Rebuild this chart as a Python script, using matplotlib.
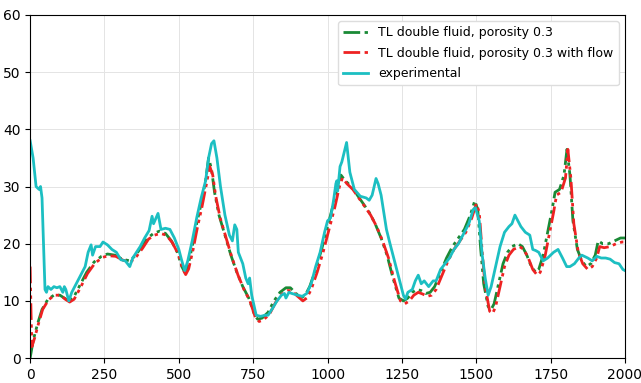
import numpy as np
import matplotlib
matplotlib.use("Agg")
import matplotlib.pyplot as plt

# experimental curve
x_exp = [0, 10, 20, 30, 35, 40, 45, 50, 55, 60, 70, 80, 90, 100, 110, 115, 120, 130,
         140, 150, 170, 185, 195, 205, 210, 220, 235, 245, 260, 275, 290, 305, 320, 335,
         345, 355, 370, 385, 400, 410, 415, 430, 440, 455, 470, 485, 500, 510, 520, 530,
         545, 560, 575, 590, 600, 610, 618, 628, 640, 655, 670, 680, 688, 695, 700, 715,
         725, 733, 738, 745, 760, 775, 790, 800, 815, 830, 845, 855, 860, 870, 880, 900,
         915, 930, 945, 960, 975, 990, 1000, 1010, 1020, 1028, 1031, 1034, 1042, 1048,
         1064, 1075, 1090, 1110, 1130, 1140, 1150, 1163, 1170, 1180, 1198, 1210, 1225,
         1240, 1255, 1262, 1270, 1285, 1295, 1305, 1315, 1325, 1340, 1355, 1365, 1380,
         1395, 1410, 1425, 1440, 1460, 1475, 1490, 1497, 1510, 1520, 1530, 1540, 1550,
         1565, 1580, 1595, 1610, 1620, 1630, 1640, 1650, 1665, 1680, 1690, 1700, 1710,
         1725, 1740, 1760, 1775, 1790, 1804, 1815, 1830, 1845, 1855, 1875, 1890, 1905,
         1920, 1935, 1950, 1965, 1980, 1993, 2000]
y_exp = [38, 35, 30, 29.5, 30, 28, 20, 12, 11.5, 12.5, 12, 12.5, 12.3, 12.5, 11.5, 12.5,
         12, 10, 11.5, 12.5, 14.5, 16, 18.5, 19.8, 18, 19.5, 19.5, 20.3, 19.8, 19, 18.5,
         17.2, 17, 16, 17.5, 18.3, 19.5, 21, 22.3, 24.8, 23.5, 25.3, 22.5, 22.7, 22.5,
         21, 19, 17, 15.3, 17, 20.5, 24.5, 28, 31, 35, 37.5, 38, 35, 30, 25, 21.5, 20.5,
         23.3, 22.5, 18.5, 16.5, 14, 13, 14, 11, 7.5, 7.3, 7.5, 7.5, 8.7, 10, 11, 11.3,
         10.5, 11.5, 11.3, 11, 10.8, 11.3, 13, 16, 18.5, 22, 24, 24.5, 27.5, 30.5, 31,
         29.2, 33.5, 34.3, 37.7, 32.5, 29.5, 28.3, 28, 27.6, 28.5, 31.4, 30.5, 28.5,
         22.5, 20, 17, 14, 11, 10.3, 11.5, 12, 13.5, 14.5, 13, 13.5, 12.5, 13.5, 13.5,
         15.5, 16.5, 17.5, 19, 20, 22, 23.5, 26, 26.3, 24, 18, 14, 11, 12.5, 16, 19.5,
         22, 23, 23.5, 25, 24, 23, 22, 21.5, 19, 18.8, 18.5, 17, 17.5, 18.5, 19, 17.5,
         16, 16, 16.5, 17.5, 18, 17.5, 17, 17.8, 17.5, 17.5, 17.3, 16.7, 16.5, 15.5, 15.3]

# TL double fluid, porosity 0.3
x_tl = [0, 10, 25, 40, 60, 80, 100, 115, 130, 145, 165, 190, 215, 240, 260, 285, 310,
        335, 355, 375, 395, 415, 435, 455, 475, 495, 510, 520, 530, 545, 560, 575, 590,
        600, 610, 620, 635, 655, 675, 695, 715, 735, 755, 765, 780, 800, 820, 840, 860,
        875, 890, 910, 925, 940, 960, 980, 1000, 1020, 1035, 1045, 1060, 1080, 1100,
        1120, 1140, 1160, 1180, 1200, 1220, 1240, 1255, 1270, 1285, 1300, 1315, 1330,
        1345, 1360, 1380, 1400, 1420, 1440, 1460, 1480, 1495, 1505, 1515, 1525, 1540,
        1550, 1560, 1575, 1590, 1605, 1620, 1640, 1655, 1670, 1685, 1700, 1710, 1725,
        1740, 1755, 1765, 1780, 1795, 1805, 1815, 1825, 1840, 1855, 1870, 1885, 1900,
        1910, 1925, 1945, 1965, 1985, 2000]
y_tl = [0, 3, 6, 8.5, 10.3, 11, 11, 10.5, 10, 10.5, 12.5, 15, 16.8, 17.8, 18.2, 18, 17.3,
        17, 18, 19.5, 21, 21.8, 22.2, 21.8, 20.5, 18.5, 16, 15, 16, 19.5, 23.5, 27, 31,
        35, 33, 29, 25, 21.5, 18, 15, 12.5, 10.5, 7.5, 6.8, 7, 8, 10, 11.5, 12.3, 12.3,
        11.5, 10.5, 11, 12.5, 15.5, 19, 23, 27, 30.5, 32, 31, 30, 28.5, 27, 25.5, 23.5,
        21, 18, 14, 10.5, 10, 10.5, 11.5, 12, 11.8, 11.3, 11.5, 12.5, 15, 17.5, 19.5,
        21, 22.5, 25, 27.5, 26, 19, 13, 9, 8.5, 9.5, 13, 16.5, 18.5, 19.5, 20, 19.5,
        18, 16, 15, 15.5, 18, 22, 26, 29, 29.5, 32, 36.5, 32, 24, 19, 17, 16, 16.5,
        18, 20.5, 20, 20, 20.5, 21, 21]

# TL double fluid, porosity 0.3 with flow
x_fl = [0, 3, 6, 15, 28, 42, 62, 82, 102, 118, 133, 148, 168, 193, 218, 243, 263, 288,
        313, 338, 358, 378, 398, 418, 438, 458, 478, 498, 513, 523, 533, 548, 563, 578,
        593, 604, 614, 624, 639, 659, 679, 699, 719, 739, 758, 770, 785, 805, 825, 845,
        865, 880, 895, 917, 930, 945, 965, 985, 1005, 1025, 1040, 1050, 1065, 1085,
        1105, 1125, 1145, 1165, 1185, 1205, 1225, 1245, 1260, 1275, 1290, 1305, 1320,
        1335, 1350, 1365, 1385, 1405, 1425, 1445, 1465, 1485, 1500, 1510, 1520, 1530,
        1545, 1555, 1565, 1580, 1595, 1610, 1625, 1645, 1660, 1675, 1690, 1705, 1715,
        1730, 1745, 1760, 1770, 1785, 1800, 1808, 1818, 1828, 1843, 1858, 1875, 1890,
        1905, 1915, 1930, 1950, 1970, 1990, 2000]
y_fl = [16, 8, 2, 3.5, 6, 8.5, 10.2, 11, 11, 10.3, 9.8, 10.3, 12.2, 14.8, 16.6, 17.6,
        17.9, 17.8, 17.1, 16.8, 17.8, 19.2, 20.8, 21.5, 21.8, 21.5, 20.2, 18.2, 15.6,
        14.6, 15.6, 19, 23, 26.5, 30.5, 33.5, 32, 28.3, 24.5, 21, 17.5, 14.5, 12, 10,
        7, 6.4, 6.7, 7.7, 9.7, 11.1, 11.8, 11.8, 11, 10, 10.5, 12, 15, 18.5, 22.5,
        26.5, 30, 31.5, 30.5, 29.5, 28, 26.5, 25, 23, 20.5, 17.5, 13.5, 10, 9.5, 10,
        11, 11.5, 11.2, 10.8, 11, 12, 14.5, 17, 19, 20.5, 22, 24.5, 27, 25.5, 18.5,
        12.5, 8.2, 7.8, 9, 12.5, 16, 18, 19, 19.5, 19, 17.5, 15.5, 14.5, 15, 17.5,
        21.5, 25.5, 28.5, 29, 31.5, 36.5, 31.5, 23.5, 18.5, 16.5, 15.5, 16, 17.5, 19.5,
        19.3, 19.5, 20, 20.3, 20.3]

plt.figure(figsize=(6.41, 3.83), dpi=100)
ax = plt.axes([0.047, 0.065, 0.928, 0.896])

dash = (0, (6, 1.6, 1.2, 1.6, 1.2, 1.6))
ax.plot(x_tl, y_tl, color="#1a8a36", linestyle=dash, lw=2,
        label="TL double fluid, porosity 0.3")
ax.plot(x_fl, y_fl, color="#ee2222", linestyle=dash, lw=2,
        label="TL double fluid, porosity 0.3 with flow")
ax.plot(x_exp, y_exp, color="#1cbfc2", lw=2, label="experimental")

ax.set_xlim(0, 2000)
ax.set_ylim(0, 60)
ax.set_xticks([0, 250, 500, 750, 1000, 1250, 1500, 1750, 2000])
ax.set_yticks([0, 10, 20, 30, 40, 50, 60])
ax.grid(True, color="#e4e4e4", lw=0.7)
ax.tick_params(labelsize=10)
ax.legend(loc="upper right", fontsize=9, labelspacing=0.6, framealpha=1,
          edgecolor="#dddddd")

plt.savefig("out.png", dpi=100)
